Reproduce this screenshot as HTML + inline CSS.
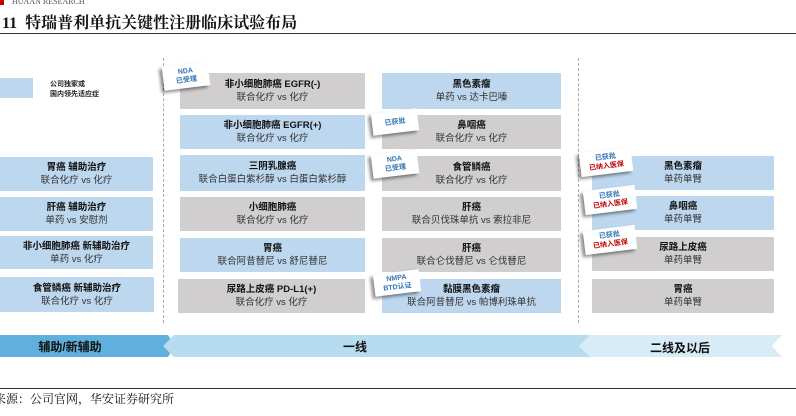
<!DOCTYPE html>
<html><head><meta charset="utf-8"><style>
body{margin:0;width:796px;height:416px;background:#fff;position:relative;overflow:hidden;font-family:"Liberation Sans","Noto Sans CJK SC",sans-serif;}
.b{position:absolute;text-align:center;font-size:9.5px;line-height:13px;color:#333;display:flex;flex-direction:column;justify-content:center;}
.b b{color:#111;}
.bl{background:#bdd7ee}.gr{background:#d0cece}
.t{position:absolute;background:#fff;box-shadow:-3px 2px 3px rgba(0,0,0,.45);font-size:7px;line-height:9px;text-align:center;color:#2e75b6;font-weight:bold;display:flex;flex-direction:column;justify-content:center;transform:rotate(-7deg);}
.t .r{color:#c00000}
.dash{position:absolute;border-left:1px dashed #aaa;top:58px;height:265px}
</style></head><body>
<div style="position:absolute;left:0;top:0;width:4px;height:5px;background:#c00000"></div>
<div style="position:absolute;left:12px;top:-3px;font-family:'Liberation Serif',serif;font-size:8px;color:#555">HUAAN RESEARCH</div>
<div style="position:absolute;left:2px;top:10px;font-family:'Liberation Serif','Noto Serif CJK SC',serif;font-size:16px;font-weight:bold;color:#111">11&nbsp; 特瑞普利单抗关键性注册临床试验布局</div>
<div style="position:absolute;left:0;top:33px;width:796px;height:1px;background:#333"></div>

<div class="bl" style="position:absolute;left:0;top:78px;width:33px;height:20px"></div>
<div style="position:absolute;left:50px;top:80px;font-size:7px;line-height:10px;font-weight:bold;color:#222">公司独家或<br>国内领先适应症</div>

<div class="dash" style="left:163px"></div>
<div class="dash" style="left:578px"></div>

<div class="b bl" style="left:0;top:157px;width:153px;height:34px"><b>胃癌 辅助治疗</b>联合化疗 vs 化疗</div>
<div class="b bl" style="left:0;top:197px;width:153px;height:34px"><b>肝癌 辅助治疗</b>单药 vs 安慰剂</div>
<div class="b bl" style="left:0;top:236px;width:153px;height:33px"><b>非小细胞肺癌 新辅助治疗</b>单药 vs 化疗</div>
<div class="b bl" style="left:0;top:277px;width:154px;height:35px"><b>食管鳞癌 新辅助治疗</b>联合化疗 vs 化疗</div>

<div class="b gr" style="left:180px;top:73px;width:185px;height:36px"><b>非小细胞肺癌 EGFR(-)</b>联合化疗 vs 化疗</div>
<div class="b bl" style="left:180px;top:115px;width:185px;height:34px"><b>非小细胞肺癌 EGFR(+)</b>联合化疗 vs 化疗</div>
<div class="b bl" style="left:180px;top:155px;width:185px;height:36px"><b>三阴乳腺癌</b>联合白蛋白紫杉醇 vs 白蛋白紫杉醇</div>
<div class="b gr" style="left:180px;top:197px;width:185px;height:34px"><b>小细胞肺癌</b>联合化疗 vs 化疗</div>
<div class="b bl" style="left:180px;top:238px;width:185px;height:34px"><b>胃癌</b>联合阿昔替尼 vs 舒尼替尼</div>
<div class="b gr" style="left:178px;top:279px;width:187px;height:34px"><b>尿路上皮癌 PD-L1(+)</b>联合化疗 vs 化疗</div>

<div class="b bl" style="left:382px;top:73px;width:179px;height:36px"><b>黑色素瘤</b>单药 vs 达卡巴嗪</div>
<div class="b gr" style="left:382px;top:115px;width:179px;height:34px"><b>鼻咽癌</b>联合化疗 vs 化疗</div>
<div class="b gr" style="left:382px;top:156px;width:179px;height:35px"><b>食管鳞癌</b>联合化疗 vs 化疗</div>
<div class="b gr" style="left:382px;top:197px;width:179px;height:34px"><b>肝癌</b>联合贝伐珠单抗 vs 索拉非尼</div>
<div class="b gr" style="left:382px;top:238px;width:179px;height:34px"><b>肝癌</b>联合仑伐替尼 vs 仑伐替尼</div>
<div class="b bl" style="left:382px;top:279px;width:179px;height:34px"><b>黏膜黑色素瘤</b>联合阿昔替尼 vs 帕博利珠单抗</div>

<div class="b bl" style="left:592px;top:156px;width:182px;height:34px"><b>黑色素瘤</b>单药单臂</div>
<div class="b bl" style="left:592px;top:196px;width:182px;height:34px"><b>鼻咽癌</b>单药单臂</div>
<div class="b gr" style="left:592px;top:237px;width:182px;height:34px"><b>尿路上皮癌</b>单药单臂</div>
<div class="b gr" style="left:592px;top:279px;width:182px;height:34px"><b>胃癌</b>单药单臂</div>

<div class="t" style="left:163px;top:64px;width:46px;height:24px">NDA<br>已受理</div>
<div class="t" style="left:372px;top:111px;width:46px;height:22px">已获批</div>
<div class="t" style="left:372px;top:152px;width:46px;height:24px">NDA<br>已受理</div>
<div class="t" style="left:374px;top:272px;width:46px;height:22px">NMPA<br>BTD认证</div>
<div class="t" style="left:580px;top:150px;width:52px;height:24px">已获批<br><span class="r">已纳入医保</span></div>
<div class="t" style="left:584px;top:188px;width:52px;height:24px">已获批<br><span class="r">已纳入医保</span></div>
<div class="t" style="left:584px;top:228px;width:52px;height:24px">已获批<br><span class="r">已纳入医保</span></div>

<svg style="position:absolute;left:0;top:0" width="796" height="416">
<polygon points="0,335 168,335 175,346 168,357 0,357" fill="#5fb0dc"/>
<polygon points="174,335 590,335 590,357 174,357 163,346" fill="#b8dcef"/>
<polygon points="590,335 782,335 772,346 782,357 590,357 579,346" fill="#d7ecf7"/>
<text x="70" y="351" text-anchor="middle" font-size="12" font-weight="bold" fill="#111" font-family="Liberation Sans,Noto Sans CJK SC,sans-serif">辅助/新辅助</text>
<text x="355" y="351" text-anchor="middle" font-size="12" font-weight="bold" fill="#111" font-family="Liberation Sans,Noto Sans CJK SC,sans-serif">一线</text>
<text x="680" y="352" text-anchor="middle" font-size="12" font-weight="bold" fill="#111" font-family="Liberation Sans,Noto Sans CJK SC,sans-serif">二线及以后</text>
</svg>
<div style="position:absolute;left:0;top:388px;width:796px;height:1px;background:#333"></div>
<div style="position:absolute;left:-6px;top:390px;font-family:'Liberation Serif','Noto Serif CJK SC',serif;font-size:12px;color:#111">来源：公司官网，华安证券研究所</div>
</body></html>
